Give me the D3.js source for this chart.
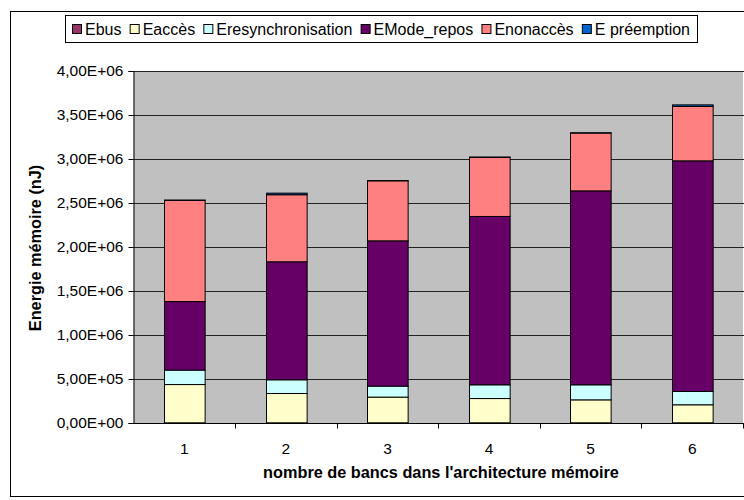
<!DOCTYPE html>
<html>
<head>
<meta charset="utf-8">
<script src="https://cdn.jsdelivr.net/npm/d3@7"></script>
<style>
  html, body { margin: 0; padding: 0; background: #fff; }
  svg { display: block; font-family: "Liberation Sans", Arial, sans-serif; }
</style>
</head>
<body>
<svg id="chart" width="744" height="500"></svg>
<script>
// Number of memory banks
const categories = ["1", "2", "3", "4", "5", "6"];

// Series names (stack order, bottom to top)
const seriesNames = ["Ebus", "Eaccès", "Eresynchronisation", "EMode_repos", "Enonaccès", "E préemption"];
const seriesColors = ["#993366", "#FFFFCC", "#CCFFFF", "#660066", "#FF8080", "#0066CC"];

// Energy per series, nJ
const eBus        = [2000, 2000, 2000, 2000, 2000, 2000];
const eAcces      = [435000, 333000, 292000, 276000, 261000, 205000];
const eResync     = [164000, 156000, 125000, 156000, 171000, 151000];
const eModeRepos  = [779000, 1341000, 1651000, 1913000, 2204000, 2621000];
const eNonAcces   = [1150000, 762000, 682000, 672000, 657000, 618000];
const ePreemption = [3000, 18000, 3000, 3000, 3000, 18000];

const yTicks = [0, 500000, 1000000, 1500000, 2000000, 2500000, 3000000, 3500000, 4000000];

const seriesValues = [eBus, eAcces, eResync, eModeRepos, eNonAcces, ePreemption];

const rows = categories.map((c, i) => {
  const r = { cat: c };
  seriesNames.forEach((s, k) => { r[s] = seriesValues[k][i]; });
  return r;
});

const svg = d3.select("#chart");

// outer chart frame
svg.append("rect")
  .attr("x", 10.5).attr("y", 11.5)
  .attr("width", 760).attr("height", 485)
  .attr("fill", "#fff").attr("stroke", "#000").attr("stroke-width", 1);

const plot = { left: 133.5, top: 71, right: 743, bottom: 423 };

const x = d3.scaleBand().domain(categories).range([plot.left, plot.right]).paddingInner(0.6).paddingOuter(0.3);
const xBand = d3.scaleBand().domain(categories).range([plot.left, plot.right]);
const y = d3.scaleLinear().domain([0, 4000000]).range([plot.bottom, plot.top]);

// plot background
svg.append("rect")
  .attr("x", plot.left).attr("y", plot.top)
  .attr("width", plot.right - plot.left).attr("height", plot.bottom - plot.top)
  .attr("fill", "#C0C0C0");

// horizontal gridlines
svg.append("g").selectAll("line").data(yTicks.filter(t => t > 0)).join("line")
  .attr("x1", plot.left).attr("x2", plot.right + 5)
  .attr("y1", d => Math.round(y(d)) + 0.5).attr("y2", d => Math.round(y(d)) + 0.5)
  .attr("stroke", "#222").attr("stroke-width", 1);

// stacked bars
const stack = d3.stack().keys(seriesNames)(rows);
svg.append("g").selectAll("g").data(stack).join("g")
  .attr("fill", (d, i) => seriesColors[i])
  .selectAll("rect").data(d => d).join("rect")
    .attr("x", d => Math.round(x(d.data.cat)) + 0.5)
    .attr("y", d => y(d[1]))
    .attr("width", x.bandwidth())
    .attr("height", d => Math.max(0, y(d[0]) - y(d[1])))
    .attr("stroke", "#000").attr("stroke-width", 1);

// y axis
const fmt = v => {
  const [m, e] = v.toExponential(2).split("e");
  const ex = parseInt(e, 10);
  return m.replace(".", ",") + "E" + (ex < 0 ? "-" : "+") + String(Math.abs(ex)).padStart(2, "0");
};
const yAxis = d3.axisLeft(y).tickValues(yTicks).tickFormat(fmt).tickSize(5).tickPadding(5);
const gy = svg.append("g").attr("transform", `translate(${plot.left},0)`).call(yAxis);
gy.select(".domain").attr("stroke", "#000");
gy.selectAll(".tick line").attr("stroke", "#000");
gy.selectAll("text").attr("font-size", 15.5).attr("fill", "#000")
  .attr("font-family", "'Liberation Sans', Arial, sans-serif");

// x axis: ticks on category boundaries
const gx = svg.append("g").attr("transform", `translate(0,${plot.bottom + 0.5})`);
gx.append("line").attr("x1", plot.left).attr("x2", plot.right + 5).attr("stroke", "#000");
const boundaries = categories.map(c => xBand(c) + xBand.bandwidth());
gx.selectAll("line.tick").data(boundaries).join("line").attr("class", "tick")
  .attr("x1", d => Math.round(d) + 0.5).attr("x2", d => Math.round(d) + 0.5)
  .attr("y1", 0).attr("y2", 5).attr("stroke", "#000");
gx.selectAll("text").data(categories).join("text")
  .attr("x", d => xBand(d) + xBand.bandwidth() / 2)
  .attr("y", 30)
  .attr("text-anchor", "middle")
  .attr("font-size", 15.5)
  .text(d => d);

// axis titles
svg.append("text")
  .attr("x", 441).attr("y", 478)
  .attr("text-anchor", "middle").attr("font-size", 16.3).attr("font-weight", "bold")
  .text("nombre de bancs dans l'architecture mémoire");

svg.append("text")
  .attr("transform", "translate(41,248) rotate(-90)")
  .attr("text-anchor", "middle").attr("font-size", 16.3).attr("font-weight", "bold")
  .text("Energie mémoire (nJ)");

// legend
const legend = svg.append("g");
legend.append("rect")
  .attr("x", 65.5).attr("y", 15.5).attr("width", 632).attr("height", 27)
  .attr("fill", "#fff").attr("stroke", "#000");
let lx = 72;
seriesNames.forEach((s, i) => {
  legend.append("rect")
    .attr("x", lx + 0.5).attr("y", 24.5).attr("width", 9).attr("height", 9)
    .attr("fill", seriesColors[i]).attr("stroke", "#000");
  const t = legend.append("text")
    .attr("x", lx + 13).attr("y", 35)
    .attr("font-size", 16)
    .text(s);
  lx += 13 + t.node().getComputedTextLength() + 8.2;
});
</script>
</body>
</html>
